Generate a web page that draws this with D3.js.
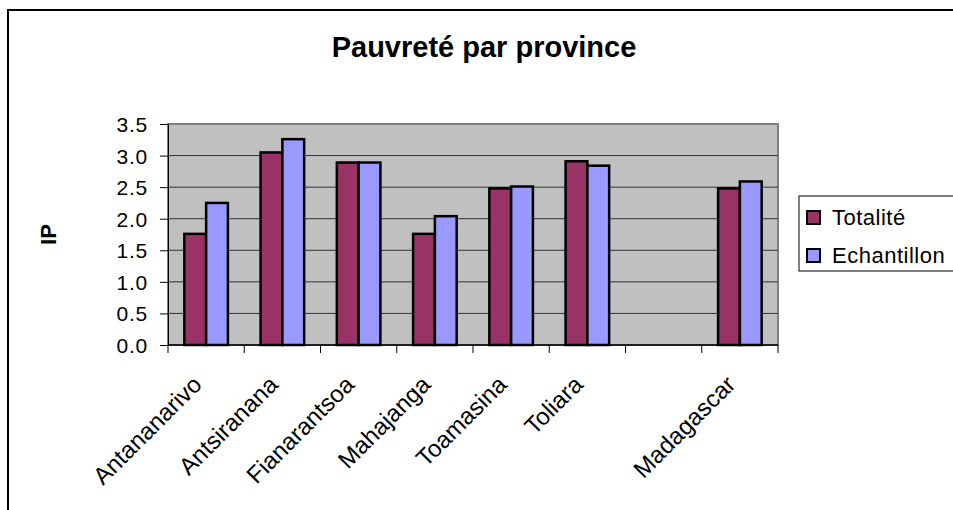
<!DOCTYPE html>
<html>
<head>
<meta charset="utf-8">
<script src="https://cdn.jsdelivr.net/npm/d3@7"></script>
<style>
  body { margin: 0; background: #fff; }
  text { font-family: 'Liberation Sans', Arial, sans-serif; }
</style>
</head>
<body>
<script>
// data
var provinces = ['Antananarivo', 'Antsiranana', 'Fianarantsoa', 'Mahajanga', 'Toamasina', 'Toliara', '', 'Madagascar'],
  seriesNames = ['Totalité', 'Echantillon'],
  totalite = [1.76, 3.05, 2.89, 1.76, 2.48, 2.91, null, 2.48],
  echantillon = [2.25, 3.26, 2.89, 2.04, 2.51, 2.84, null, 2.59],
  yTicks = [0, 0.5, 1, 1.5, 2, 2.5, 3, 3.5],
  colors = ['#993366', '#9999FF'];

var width = 953,
  height = 510,
  plotLeft = 168,
  plotRight = 778,
  plotTop = 124,
  plotBottom = 345;

var svg = d3.select('body').append('svg').attr('width', width).attr('height', height);

// outer chart frame
svg.append('rect')
  .attr('x', 8).attr('y', 10)
  .attr('width', 960).attr('height', 520)
  .style('fill', 'white')
  .style('stroke', 'black')
  .style('stroke-width', 2);

var x = d3.scaleBand().domain(d3.range(provinces.length)).range([plotLeft, plotRight]);
var xs = d3.scaleBand().domain(seriesNames).range([0, x.bandwidth()]).paddingInner(0).paddingOuter(0.75);
var y = d3.scaleLinear().domain([0, 3.5]).range([plotBottom, plotTop]);

// plot area
svg.append('rect')
  .attr('x', plotLeft).attr('y', plotTop)
  .attr('width', plotRight - plotLeft).attr('height', plotBottom - plotTop)
  .style('fill', '#C0C0C0')
  .style('stroke', '#808080')
  .style('stroke-width', 2);

svg.append('g').selectAll('line')
  .data(yTicks.slice(1, -1))
  .enter().append('line')
  .attr('x1', plotLeft).attr('x2', plotRight)
  .attr('y1', function(d) { return y(d); })
  .attr('y2', function(d) { return y(d); })
  .style('stroke', '#333')
  .style('stroke-width', 1);

// bars
var rows = provinces.map(function(p, i) {
  return { i: i, values: [totalite[i], echantillon[i]] };
});

var groups = svg.append('g').selectAll('g')
  .data(rows)
  .enter().append('g')
  .attr('transform', function(d) { return 'translate(' + x(d.i) + ',0)'; });

groups.selectAll('rect')
  .data(function(d) {
    return seriesNames.map(function(s, k) { return { s: s, k: k, v: d.values[k] }; })
      .filter(function(e) { return e.v != null; });
  })
  .enter().append('rect')
  .attr('x', function(d) { return xs(d.s); })
  .attr('width', xs.bandwidth())
  .attr('y', function(d) { return y(d.v); })
  .attr('height', function(d) { return plotBottom - y(d.v); })
  .style('fill', function(d) { return colors[d.k]; })
  .style('stroke', 'black')
  .style('stroke-width', 2.5);

// y axis
var yAxis = svg.append('g')
  .attr('transform', 'translate(' + plotLeft + ',0)')
  .call(d3.axisLeft(y).tickValues(yTicks).tickFormat(d3.format('.1f')).tickSize(8).tickPadding(12));
yAxis.select('.domain').style('stroke', '#000');
yAxis.selectAll('line').style('stroke', '#000');
yAxis.selectAll('text')
  .style('font-size', '21px')
  .style('letter-spacing', '0.8px')
  .attr('dy', '0.36em')
  .style('fill', '#000');

// x axis: line + ticks at category boundaries
var xAxis = svg.append('g');
xAxis.append('line')
  .attr('x1', plotLeft).attr('x2', plotRight)
  .attr('y1', plotBottom).attr('y2', plotBottom)
  .style('stroke', '#000').style('stroke-width', 1.5);
xAxis.selectAll('.tk')
  .data(d3.range(provinces.length + 1))
  .enter().append('line')
  .attr('class', 'tk')
  .attr('x1', function(d) { return plotLeft + d * x.step(); })
  .attr('x2', function(d) { return plotLeft + d * x.step(); })
  .attr('y1', plotBottom).attr('y2', plotBottom + 8)
  .style('stroke', '#000');

xAxis.selectAll('.lbl')
  .data(provinces)
  .enter().append('text')
  .attr('class', 'lbl')
  .attr('transform', function(d, i) {
    return 'translate(' + (x(i) + x.bandwidth() / 2 - 3) + ',' + 386 + ') rotate(-45)';
  })
  .attr('text-anchor', 'end')
  .style('font-size', '24px')
  .text(function(d) { return d; });

// title
svg.append('text')
  .attr('x', 484).attr('y', 57)
  .attr('text-anchor', 'middle')
  .style('font-size', '29px')
  .style('font-weight', 'bold')
  .text('Pauvreté par province');

// y title
svg.append('text')
  .attr('transform', 'translate(56,' + (plotTop + plotBottom) / 2 + ') rotate(-90)')
  .attr('text-anchor', 'middle')
  .style('font-size', '22px')
  .style('font-weight', 'bold')
  .text('IP');

// legend
var legend = svg.append('g').attr('class', 'legend');
legend.append('rect')
  .attr('x', 799).attr('y', 196)
  .attr('width', 160).attr('height', 75)
  .style('fill', 'white')
  .style('stroke', 'black')
  .style('stroke-width', 1);

seriesNames.forEach(function(s, k) {
  var yy = 211 + k * 38;
  legend.append('rect')
    .attr('x', 807).attr('y', yy)
    .attr('width', 13).attr('height', 13)
    .style('fill', colors[k])
    .style('stroke', 'black')
    .style('stroke-width', 2);
  legend.append('text')
    .attr('x', 832).attr('y', yy + 14)
    .style('font-size', '22px')
    .style('letter-spacing', '0.5px')
    .text(s);
});
</script>
</body>
</html>
